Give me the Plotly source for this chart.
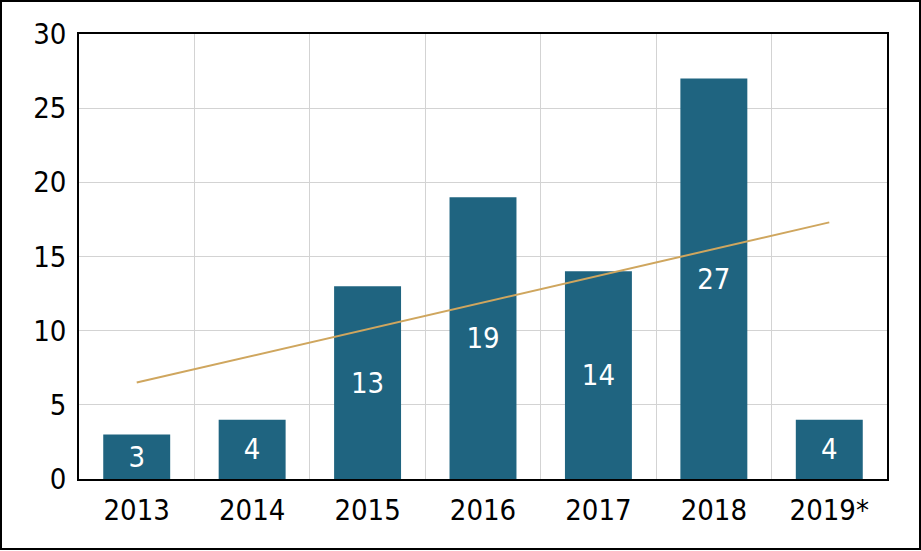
import plotly.graph_objects as go

years = ["2013", "2014", "2015", "2016", "2017", "2018", "2019*"]
counts = [3, 4, 13, 19, 14, 27, 4]
trend_x = ["2013", "2019*"]
trend_y = [6.5, 17.3]

FONT = "DejaVu Sans Condensed, Liberation Sans Narrow, sans-serif"

fig = go.Figure()
fig.add_trace(go.Bar(
    x=years, y=counts, text=[str(c) for c in counts],
    textposition="inside", insidetextanchor="middle",
    textfont=dict(color="white", size=29, family=FONT),
    marker=dict(color="#1F6480", line=dict(width=0)),
    width=0.58, showlegend=False, hoverinfo="skip",
))
fig.add_trace(go.Scatter(
    x=trend_x, y=trend_y, mode="lines",
    line=dict(color="#CFA65E", width=2), showlegend=False, hoverinfo="skip",
))

fig.update_layout(
    width=921, height=551,
    margin=dict(l=79, r=34, t=34, b=72),
    paper_bgcolor="white", plot_bgcolor="white",
    font=dict(family=FONT, size=29, color="black"),
    xaxis=dict(
        type="category", tickson="boundaries", showgrid=True, gridcolor="#D3D3D3",
        gridwidth=1, showline=True, linecolor="black", linewidth=1.5, mirror=True,
        ticks="", ticklabelstandoff=4, zeroline=False,
    ),
    yaxis=dict(
        range=[0, 30], tickvals=[0, 5, 10, 15, 20, 25, 30], showgrid=True,
        gridcolor="#D3D3D3", gridwidth=1, showline=True, linecolor="black",
        linewidth=1.5, mirror=True, ticks="", ticklabelstandoff=5, zeroline=False,
    ),
    shapes=[dict(
        type="rect", xref="paper", yref="paper",
        x0=(1 - 79) / 808, x1=(920 - 79) / 808,
        y0=(479 - 549) / 445, y1=(479 - 1) / 445,
        line=dict(color="black", width=2), fillcolor="rgba(0,0,0,0)", layer="above",
    )],
)

fig.write_html("out.html", config={"displayModeBar": False},
               post_script="document.body.style.margin='0';")
